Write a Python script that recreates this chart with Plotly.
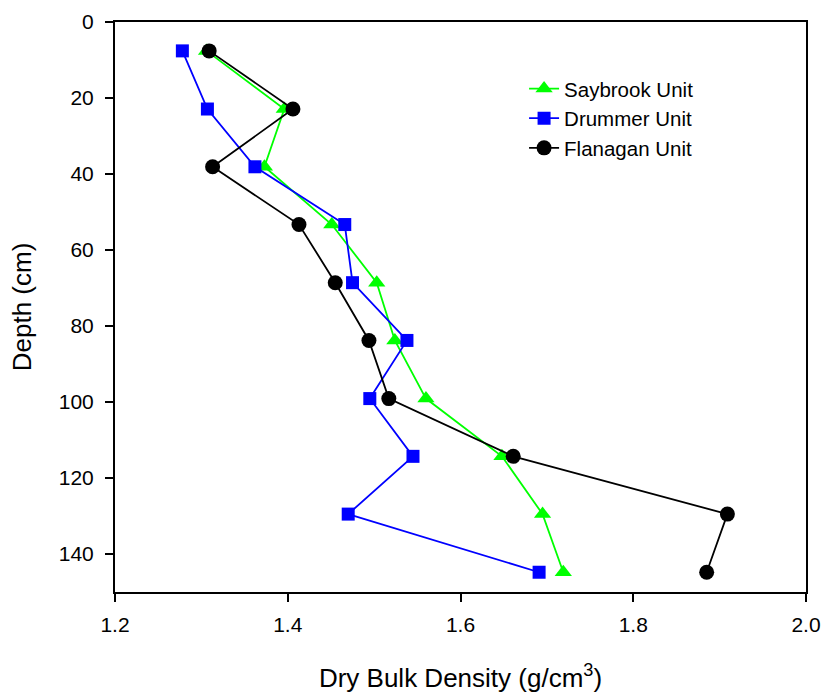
import plotly.graph_objects as go

# Sampling depths (cm) and dry bulk density (g/cm3) for each soil unit
depth_cm = [7.6, 22.9, 38.1, 53.3, 68.6, 83.8, 99.1, 114.3, 129.5, 144.8]
saybrook = [1.306, 1.396, 1.373, 1.451, 1.503, 1.524, 1.560, 1.648, 1.695, 1.719]
drummer = [1.278, 1.307, 1.362, 1.466, 1.475, 1.538, 1.495, 1.545, 1.470, 1.691]
flanagan = [1.309, 1.406, 1.313, 1.413, 1.455, 1.494, 1.517, 1.661, 1.909, 1.885]

x_ticks = [1.2, 1.4, 1.6, 1.8, 2.0]
y_ticks = [0, 20, 40, 60, 80, 100, 120, 140]

FONT = "Liberation Sans, Arial, sans-serif"

series = [
    ("Saybrook Unit", saybrook, "#00ff00", "triangle-up", 15),
    ("Drummer Unit", drummer, "#0000ff", "square", 13),
    ("Flanagan Unit", flanagan, "#000000", "circle", 15),
]

fig = go.Figure()
for name, vals, color, symbol, size in series:
    fig.add_trace(go.Scatter(
        x=vals, y=depth_cm, name=name, mode="lines+markers",
        line=dict(color=color, width=1.8),
        marker=dict(symbol=symbol, size=size, color=color, line=dict(width=0)),
    ))

axis_common = dict(
    showline=True, linecolor="black", linewidth=2, mirror=True,
    ticks="outside", ticklen=8, tickwidth=2, tickcolor="black",
    showgrid=False, zeroline=False, automargin=False,
    tickfont=dict(family=FONT, size=21, color="black"),
)

fig.update_xaxes(
    range=[1.2, 2.0], tickvals=x_ticks, tickformat=".1f",
    title=dict(text="Dry Bulk Density (g/cm<sup>3</sup>)",
               font=dict(family=FONT, size=26, color="black"), standoff=36),
    ticklabelstandoff=5,
    **axis_common,
)
fig.update_yaxes(
    range=[150, 0], tickvals=y_ticks,
    title=dict(text="Depth (cm)", font=dict(family=FONT, size=26, color="black"),
               standoff=20),
    ticklabelstandoff=7,
    **axis_common,
)

fig.update_layout(
    width=829, height=693,
    margin=dict(l=115, r=23, t=22, b=101),
    paper_bgcolor="white", plot_bgcolor="white",
    font=dict(family=FONT, color="black"),
    legend=dict(
        x=0.592, y=0.918, xanchor="left", yanchor="top",
        bgcolor="rgba(0,0,0,0)", borderwidth=0,
        font=dict(family=FONT, size=20.5, color="black"),
        tracegroupgap=0, itemwidth=30,
    ),
)

fig.write_html("out.html")
